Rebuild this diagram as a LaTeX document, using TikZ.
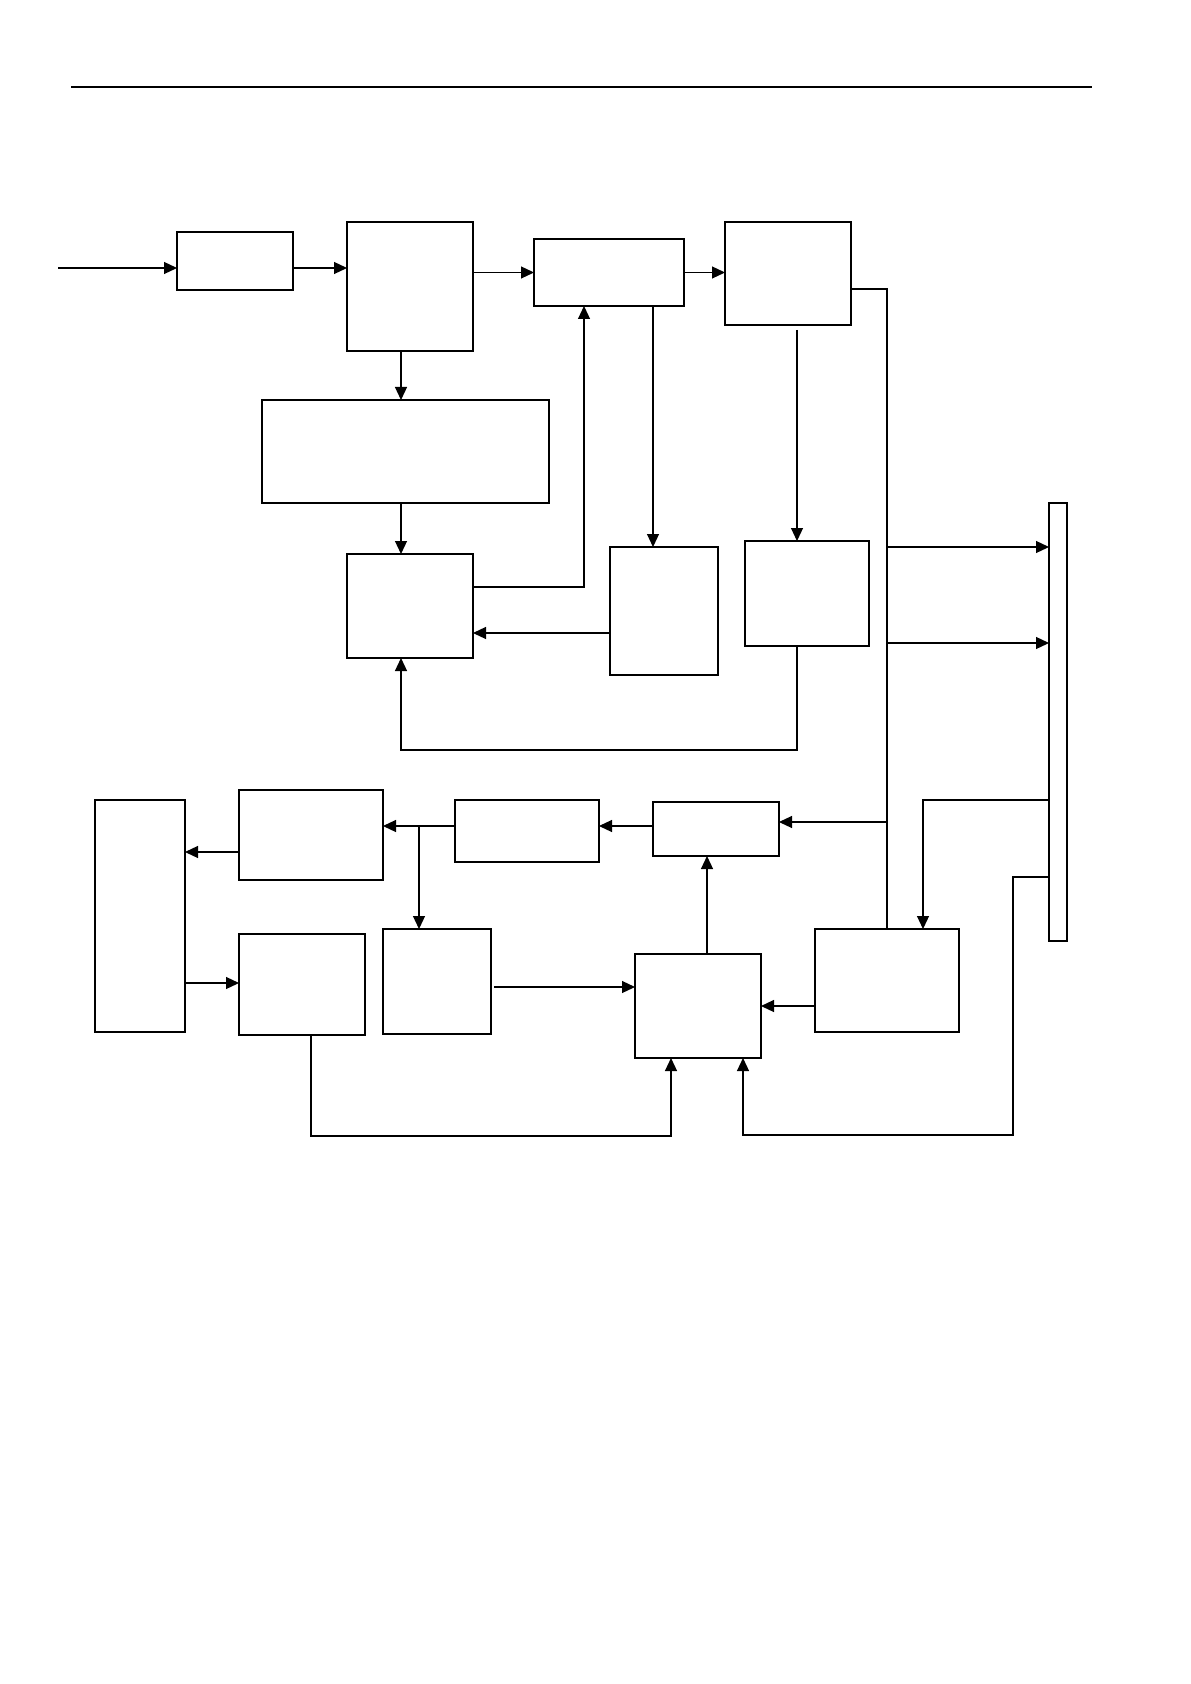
\documentclass[tikz,border=0pt]{standalone}
\usetikzlibrary{arrows.meta}
\tikzset{
  box/.style={draw,line width=0.8pt,rectangle,inner sep=0pt,outer sep=0pt,anchor=north west},
  thinbox/.style={box,line width=0.65pt},
  conn/.style={line width=0.6pt},
  arr/.style={conn,-{Triangle[length=6.5pt,width=6pt]}},
}
\newcommand\mkbox[6][box]{\node[#1,minimum width={(#5-#3)*0.5pt},minimum height={(#6-#4)*0.5pt}] (#2) at (#3,#4) {};}
\begin{document}
\begin{tikzpicture}[x=0.5pt,y=-0.5pt]
\useasboundingbox (0,0) rectangle (1190,1684);
% header rule
\coordinate (hl) at (71,87);
\coordinate (hr) at (1092,87);
\draw[line width=0.9pt] (hl) -- (hr);
% boxes
\mkbox{A}{177}{232}{293}{290}
\mkbox{B}{347}{222}{473}{351}
\mkbox[thinbox]{C}{534}{239}{684}{306}
\mkbox{E}{725}{222}{851}{325}
\mkbox[thinbox]{D}{262}{400}{549}{503}
\mkbox{G}{347}{554}{473}{658}
\mkbox{H}{610}{547}{718}{675}
\mkbox[thinbox]{I}{745}{541}{869}{646}
\mkbox[thinbox]{R}{1049}{503}{1067}{941}
\mkbox{K}{653}{802}{779}{856}
\mkbox{J}{455}{800}{599}{862}
\mkbox{L}{635}{954}{761}{1058}
\mkbox{M}{815}{929}{959}{1032}
\mkbox{N}{95}{800}{185}{1032}
\mkbox{O}{239}{790}{383}{880}
\mkbox{P}{239}{934}{365}{1035}
\mkbox{Q}{383}{929}{491}{1034}
% free ends
\coordinate (in) at (58,268);
\coordinate (eo) at (797,330);
\coordinate (qo) at (494,987);
% top chain
\draw[arr] (in) -- (in -| A.west);
\draw[arr] (A.east |- in) -- (B.west |- in);
\draw[arr] (B.east |- C.west) -- (C.west);
\draw[arr] (C.east) -- (E.west |- C.east);
\draw[arr] (B.south -| 401,0) -- (D.north -| 401,0);
\draw[arr] (D.south -| 401,0) -- (G.north -| 401,0);
\draw[arr] (G.east |- 0,587) -| (C.south -| 584,0);
\draw[arr] (C.south -| 653,0) -- (H.north -| 653,0);
\draw[arr] (H.west |- 0,633) -- (G.east |- 0,633);
\draw[arr] (eo) -- (I.north -| eo);
\draw[arr] (I.south -| 797,0) |- (401,750) -- (G.south -| 401,0);
% bus
\draw[line width=0.75pt] (E.east |- 0,289) -| (M.north -| 887,0);
\draw[arr] (887,547) -- (R.west |- 0,547);
\draw[arr] (887,643) -- (R.west |- 0,643);
\draw[arr] (887,822) -- (K.east |- 0,822);
\draw[arr] (R.west |- 0,800) -| (M.north -| 923,0);
\draw[arr] (R.west |- 0,877) -| (1013,1135) -- (743,1135) -- (L.south -| 743,0);
% bottom part
\draw[arr] (K.west |- 0,826) -- (J.east |- 0,826);
\draw[arr] (L.north -| 707,0) -- (K.south -| 707,0);
\draw[arr] (M.west |- 0,1006) -- (L.east |- 0,1006);
\draw[arr] (qo) -- (L.west |- qo);
\draw[arr] (P.south -| 311,0) |- (671,1136) -- (L.south -| 671,0);
\draw[arr] (J.west |- 0,826) -- (O.east |- 0,826);
\draw[arr] (419,826) -- (Q.north -| 419,0);
\draw[arr] (O.west |- 0,852) -- (N.east |- 0,852);
\draw[arr] (N.east |- 0,983) -- (P.west |- 0,983);
\end{tikzpicture}
\end{document}
